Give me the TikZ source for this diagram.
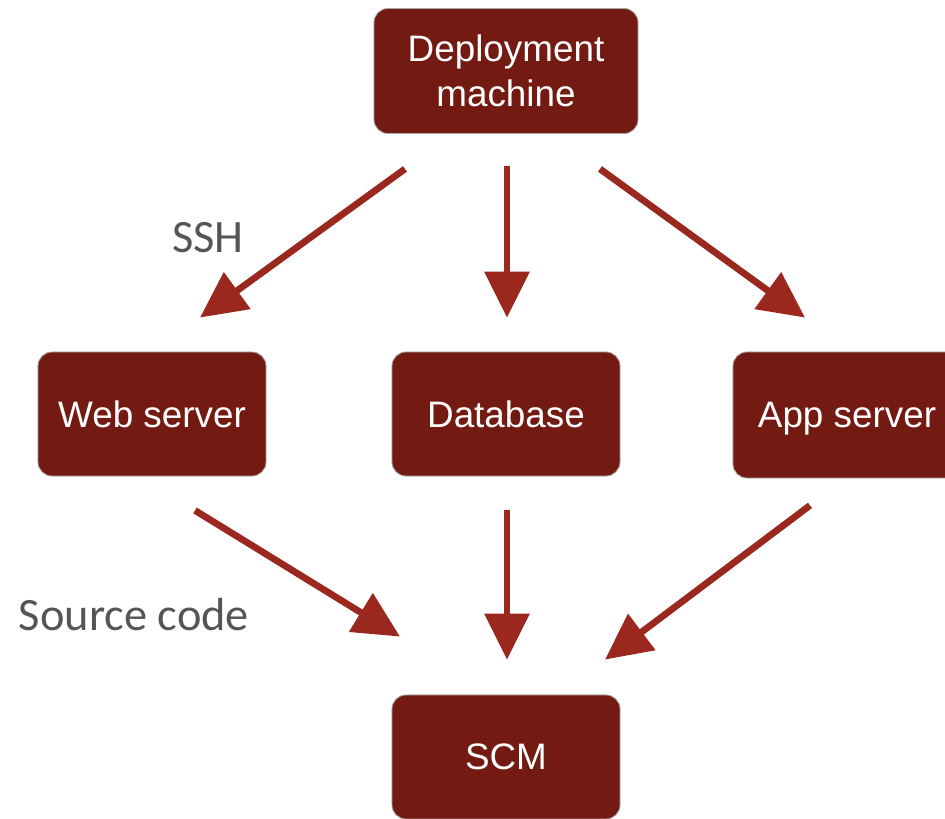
\documentclass[tikz,border=0pt]{standalone}
\usepackage{fontspec}
\setmainfont{Liberation Sans}
\newfontfamily\etiqfont{Carlito}
\usetikzlibrary{arrows.meta}
\definecolor{granate}{RGB}{115,26,18}
\definecolor{flecha}{RGB}{155,40,30}
\definecolor{gristexto}{RGB}{85,85,85}
\tikzset{
  caja/.style={draw=gray!70, line width=0.6pt, fill=granate, rounded corners=0.35cm,
    text=white, align=center, minimum width=5.7cm, minimum height=3.1cm, inner sep=0pt,
    font=\fontsize{26.2}{32}\selectfont},
  flechita/.style={draw=flecha, line width=4.8pt,
    -{Triangle[length=1.15cm, width=1.1cm]}},
  rotulo/.style={text=gristexto, inner sep=0pt, font=\etiqfont\fontsize{33}{36}\selectfont}
}
\begin{document}
\begin{tikzpicture}[x=0.025cm, y=-0.025cm]
  \useasboundingbox (0,0) rectangle (945,819);
  % las cajas
  \node[caja, minimum width=6.6cm, minimum height=3.125cm] (dep) at (506,71) {Deployment\\machine};
  \node[caja] (web) at (152,414) {Web server};
  \node[caja] (db)  at (506,414) {Database};
  \node[caja, minimum height=3.15cm, text depth=0pt] (app) at (847,415) {App server};
  \node[caja] (scm) at (506,757) {SCM};
  % las flechas, con un hueco a cada lado
  \foreach \a/\p/\b/\q in {dep/{(-101,35)}/web/{(48,-34)}, dep/{(1,32)}/db/{(1,-34)},
                           dep/{(94,35)}/app/{(-42,-34)}, web/{(43,34)}/scm/{(-106,-58)},
                           db/{(1,34)}/scm/{(1,-35)}, app/{(-37,27)}/scm/{(99,-35)}} {
    \draw[flechita] ([shift={\p}]\a.south) -- ([shift={\q}]\b.north);
  }
  % los rotulos
  \node[rotulo] (ssh) at (208,238) {SSH};
  \node[rotulo] (src) at (134,615) {Source code};
\end{tikzpicture}
\end{document}
